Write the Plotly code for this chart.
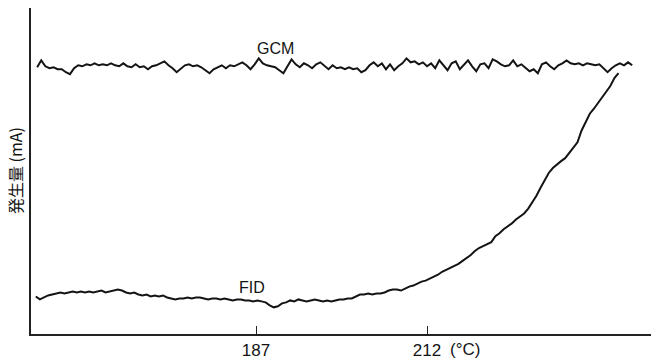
import numpy as np
import plotly.graph_objects as go

# Temperature sampling grids (deg C)
gcm_temp = np.round(np.arange(155.0, 242.01, 0.6), 1)
fid_temp = np.round(np.arange(154.8, 240.01, 0.6), 1)

# GCM signal (mA, arbitrary scale)
gcm_ma = [
    27.0, 27.7, 27.1, 26.9, 27.0, 26.8, 26.8, 26.5, 26.3, 26.9,
    27.2, 27.1, 27.3, 27.2, 27.4, 27.2, 27.3, 27.2, 27.4, 27.2,
    27.1, 27.4, 27.1, 27.0, 27.3, 27.0, 27.1, 26.8, 27.1, 27.2,
    27.4, 27.6, 27.2, 26.9, 26.5, 26.9, 27.2, 27.3, 27.1, 27.2,
    27.0, 26.7, 26.4, 26.8, 27.0, 27.2, 26.9, 27.2, 27.1, 27.3,
    27.5, 27.2, 26.8, 27.3, 27.9, 27.4, 27.2, 27.1, 27.0, 26.7,
    26.4, 27.1, 27.8, 27.3, 27.0, 27.4, 27.2, 26.9, 27.3, 27.5,
    27.1, 26.8, 27.2, 26.9, 27.0, 26.8, 27.0, 26.8, 26.9, 26.5,
    26.7, 27.2, 27.5, 27.1, 27.4, 26.8, 27.3, 26.7, 27.1, 27.4,
    27.9, 27.5, 27.6, 27.3, 27.5, 27.1, 27.4, 26.9, 27.7, 27.2,
    26.7, 27.4, 27.6, 26.8, 27.2, 27.7, 27.1, 26.6, 27.3, 27.4,
    26.9, 27.8, 27.6, 27.3, 27.1, 27.2, 27.7, 27.1, 27.3, 26.9,
    26.6, 26.8, 26.4, 27.3, 27.5, 27.1, 26.8, 27.2, 27.4, 27.7,
    27.4, 27.3, 27.4, 27.2, 27.4, 27.3, 27.2, 27.3, 26.9, 26.5,
    26.9, 27.2, 27.4, 27.2, 27.5, 27.2,
]

# FID signal (mA, arbitrary scale)
fid_ma = [
    3.8, 3.5, 3.7, 3.9, 4.0, 4.1, 4.2, 4.1, 4.2, 4.3,
    4.2, 4.3, 4.2, 4.3, 4.2, 4.3, 4.4, 4.2, 4.3, 4.4,
    4.5, 4.4, 4.2, 4.1, 4.2, 4.0, 3.9, 4.0, 3.8, 3.9,
    3.8, 3.9, 3.7, 3.6, 3.5, 3.6, 3.6, 3.7, 3.6, 3.7,
    3.7, 3.6, 3.5, 3.6, 3.6, 3.5, 3.6, 3.5, 3.4, 3.5,
    3.5, 3.4, 3.4, 3.3, 3.4, 3.3, 3.2, 2.9, 2.7, 2.8,
    3.1, 3.2, 3.4, 3.3, 3.5, 3.4, 3.3, 3.4, 3.5, 3.4,
    3.3, 3.4, 3.3, 3.4, 3.5, 3.5, 3.6, 3.6, 3.8, 4.0,
    4.0, 4.1, 4.0, 4.1, 4.1, 4.2, 4.4, 4.5, 4.5, 4.4,
    4.6, 4.8, 4.9, 5.1, 5.3, 5.4, 5.6, 5.8, 6.0, 6.3,
    6.5, 6.7, 6.9, 7.1, 7.4, 7.7, 8.0, 8.4, 8.7, 8.9,
    9.1, 9.3, 9.9, 10.2, 10.6, 10.9, 11.2, 11.6, 11.9, 12.2,
    12.7, 13.3, 14.0, 14.8, 15.5, 16.3, 16.8, 17.2, 17.5, 17.8,
    18.3, 18.8, 19.4, 20.6, 21.5, 22.3, 22.8, 23.4, 24.0, 24.6,
    25.1, 25.9, 26.4,
]

tick_vals = [187, 212]
tick_text = ["187", "212"]

ink = "#141414"
font_main = "Liberation Sans, Arial, sans-serif"

fig = go.Figure()
fig.add_trace(go.Scatter(x=gcm_temp, y=gcm_ma, mode="lines",
                         line=dict(color=ink, width=2), name="GCM"))
fig.add_trace(go.Scatter(x=fid_temp, y=fid_ma, mode="lines",
                         line=dict(color=ink, width=2), name="FID"))

fig.add_annotation(x=189.9, y=28.9, text="GCM", showarrow=False,
                   font=dict(family=font_main, size=16, color=ink))
fig.add_annotation(x=186.4, y=4.7, text="FID", showarrow=False,
                   font=dict(family=font_main, size=16, color=ink))
fig.add_annotation(x=217.6, xref="x", y=0, yref="paper", yanchor="top",
                   yshift=-4, text="(°C)", showarrow=False,
                   font=dict(family=font_main, size=17, color=ink))
fig.add_annotation(x=0, xref="paper", xanchor="center", xshift=-16,
                   y=0.5, yref="paper", yanchor="middle",
                   text="発生量 (mA)", textangle=-90, showarrow=False,
                   font=dict(family="Noto Sans CJK JP", size=16, color=ink))

fig.update_layout(
    width=651, height=360,
    margin=dict(l=31, r=0, t=8, b=22),
    paper_bgcolor="white", plot_bgcolor="white",
    showlegend=False,
    xaxis=dict(range=[154.1, 244.75], showline=True, linecolor="#222",
               linewidth=1.5, ticks="inside", ticklen=8, tickcolor="#222",
               tickwidth=1, tickvals=tick_vals, ticktext=tick_text,
               tickfont=dict(family=font_main, size=17, color=ink),
               showgrid=False, zeroline=False),
    yaxis=dict(range=[0, 33], showline=True, linecolor="#222", linewidth=1.5,
               showticklabels=False, ticks="", showgrid=False, zeroline=False),
)

fig.write_html("out.html")
